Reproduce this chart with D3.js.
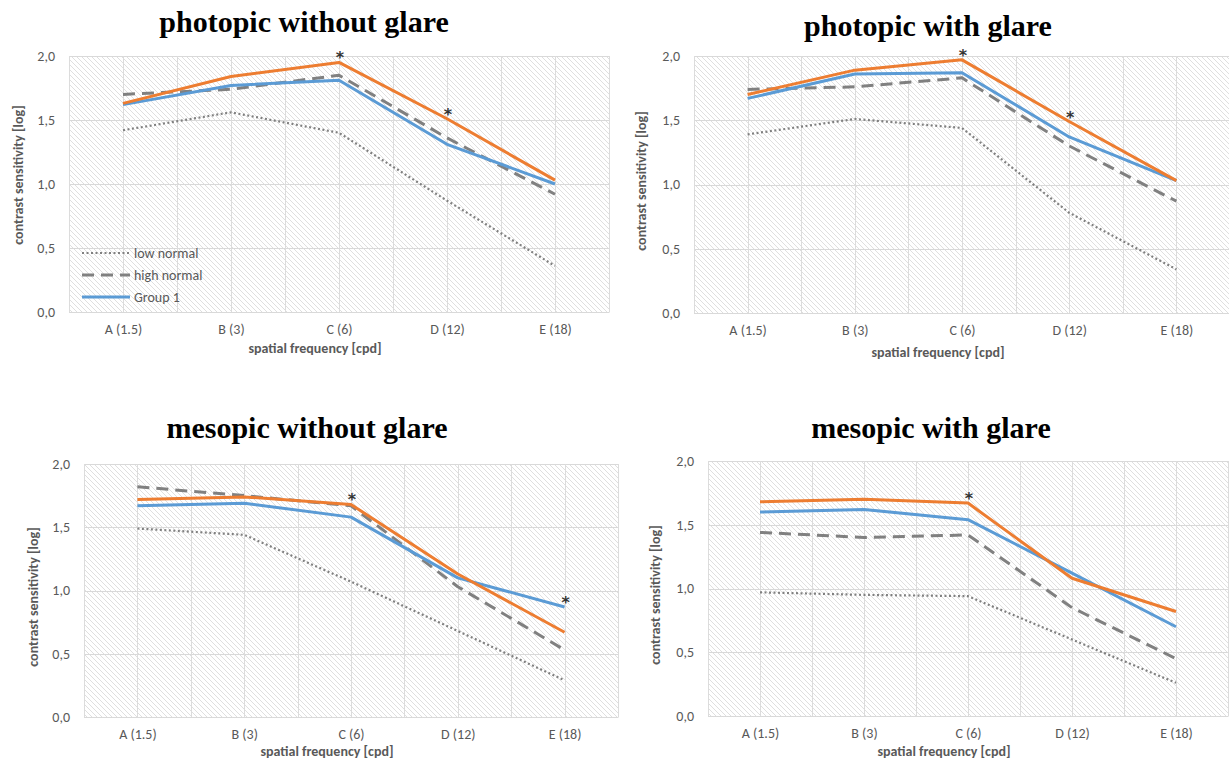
<!DOCTYPE html>
<html><head><meta charset="utf-8">
<script src="https://cdn.jsdelivr.net/npm/d3@7"></script>
<style>
body{margin:0;background:#fff;}
svg{display:block;}
</style></head>
<body>
<svg id="chart" width="1229" height="765"></svg>
<script>
const categories = ["A (1.5)", "B (3)", "C (6)", "D (12)", "E (18)"];
const yTicks = [0, 0.5, 1.0, 1.5, 2.0];
const seriesNames = ["low normal", "high normal", "Group 1", "Group 2"];
const titles = ["photopic without glare", "photopic with glare", "mesopic without glare", "mesopic with glare"];

// values per panel: [low normal, high normal, Group 1, Group 2(orange)]
const lowNormal = [
  [1.42, 1.56, 1.40, 0.87, 0.36],
  [1.39, 1.51, 1.44, 0.78, 0.34],
  [1.49, 1.44, 1.07, 0.68, 0.29],
  [0.97, 0.95, 0.94, 0.60, 0.26]
];
const highNormal = [
  [1.70, 1.74, 1.85, 1.36, 0.92],
  [1.74, 1.76, 1.83, 1.30, 0.87],
  [1.82, 1.75, 1.67, 1.03, 0.53],
  [1.44, 1.40, 1.42, 0.85, 0.45]
];
const group1 = [
  [1.62, 1.77, 1.81, 1.31, 1.00],
  [1.67, 1.86, 1.87, 1.37, 1.03],
  [1.67, 1.69, 1.58, 1.10, 0.87],
  [1.60, 1.62, 1.54, 1.12, 0.70]
];
const group2 = [
  [1.63, 1.84, 1.95, 1.51, 1.03],
  [1.70, 1.89, 1.97, 1.49, 1.03],
  [1.72, 1.74, 1.68, 1.13, 0.67],
  [1.68, 1.70, 1.67, 1.08, 0.82]
];
// significance markers (category indices) per panel, placed above the higher of the group lines
const asterisks = [[2, 3], [2, 3], [2, 4], [2]];

const xTitle = "spatial frequency [cpd]";
const yTitle = "contrast sensitivity [log]";

// layout
const panels = [
  {x0: 69,  x1: 609,  y0: 56,  y1: 312, titleX: 304, titleY: 32,  yTitleX: 18,  yTitleY: 175, xTitleY: 353, legend: true},
  {x0: 694, x1: 1230, y0: 56,  y1: 313, titleX: 928, titleY: 36,  yTitleX: 641, yTitleY: 181, xTitleY: 357, legend: false},
  {x0: 84,  x1: 618,  y0: 464, y1: 717, titleX: 307, titleY: 438, yTitleX: 33,  yTitleY: 597, xTitleY: 756, legend: false},
  {x0: 708, x1: 1228, y0: 461, y1: 716, titleX: 931, titleY: 438, yTitleX: 655, yTitleY: 595, xTitleY: 756, legend: false}
];

const styles = [
  {color: "#808080", width: 2.2, dash: "2,2.5"},
  {color: "#808080", width: 3, dash: "12,7"},
  {color: "#5B9BD5", width: 3, dash: null},
  {color: "#ED7D31", width: 3, dash: null}
];

const svg = d3.select("#chart");
const defs = svg.append("defs");
const pat = defs.append("pattern").attr("id", "hatch").attr("patternUnits", "userSpaceOnUse")
  .attr("width", 5).attr("height", 5);
pat.append("rect").attr("width", 5).attr("height", 5).attr("fill", "#ffffff");
pat.append("path").attr("d", "M-1,-1 L6,6 M-1,4 L1,6 M4,-1 L6,1")
  .attr("stroke", "#dfdfdf").attr("stroke-width", 1);

const labelFont = "Carlito, Lato, 'Open Sans', sans-serif";
const textGrey = "#595959";

panels.forEach((p, i) => {
  const g = svg.append("g");
  const x = d3.scalePoint().domain(categories).range([p.x0, p.x1]).padding(0.5);
  const xb = d3.scaleBand().domain(categories).range([p.x0, p.x1]);
  const y = d3.scaleLinear().domain([0, 2]).range([p.y1, p.y0]);

  g.append("rect").attr("x", p.x0).attr("y", p.y0).attr("width", p.x1 - p.x0).attr("height", p.y1 - p.y0)
    .attr("fill", "url(#hatch)");

  // horizontal gridlines
  g.append("g").selectAll("line").data(yTicks).join("line")
    .attr("x1", p.x0).attr("x2", p.x1).attr("y1", d => Math.round(y(d)) + 0.5).attr("y2", d => Math.round(y(d)) + 0.5)
    .attr("stroke", "#d9d9d9").attr("stroke-width", 1);
  // vertical gridlines at centers and boundaries
  const vpos = categories.map(c => x(c)).concat(categories.map(c => xb(c))).concat([p.x1]);
  g.append("g").selectAll("line").data(vpos).join("line")
    .attr("x1", d => Math.round(d) + 0.5).attr("x2", d => Math.round(d) + 0.5).attr("y1", p.y0).attr("y2", p.y1)
    .attr("stroke", "#dcdcdc").attr("stroke-width", 1);

  // y axis labels
  const yAxis = d3.axisLeft(y).tickValues(yTicks).tickSize(0).tickPadding(14)
    .tickFormat(d => d3.format(".1f")(d).replace(".", ","));
  const ya = g.append("g").attr("transform", `translate(${p.x0},0)`).call(yAxis);
  ya.select(".domain").remove();
  ya.selectAll("text").attr("font-family", labelFont).attr("font-size", 14).attr("fill", textGrey);

  // x axis labels
  const xAxis = d3.axisBottom(x).tickSize(0).tickPadding(12);
  const xa = g.append("g").attr("transform", `translate(0,${p.y1})`).call(xAxis);
  xa.select(".domain").attr("stroke", "#d9d9d9");
  xa.selectAll("text").attr("font-family", labelFont).attr("font-size", 14).attr("fill", textGrey);

  // titles
  g.append("text").attr("x", p.titleX).attr("y", p.titleY).attr("text-anchor", "middle")
    .attr("font-family", "'Liberation Serif', 'DejaVu Serif', serif").attr("font-weight", "bold")
    .attr("font-size", 30).attr("fill", "#000").text(titles[i]);
  g.append("text").attr("x", (p.x0 + p.x1) / 2 - 24).attr("y", p.xTitleY).attr("text-anchor", "middle")
    .attr("font-family", labelFont).attr("font-weight", "bold").attr("font-size", 14).attr("fill", textGrey)
    .text(xTitle);
  g.append("text").attr("transform", `translate(${p.yTitleX + 5},${p.yTitleY}) rotate(-90)`)
    .attr("text-anchor", "middle").attr("font-family", labelFont).attr("font-weight", "bold")
    .attr("font-size", 14).attr("fill", textGrey).text(yTitle);

  // lines
  const allSeries = [lowNormal[i], highNormal[i], group1[i], group2[i]];
  const line = d3.line().x((d, k) => x(categories[k])).y(d => y(d));
  allSeries.forEach((vals, s) => {
    const st = styles[s];
    g.append("path").datum(vals).attr("d", line).attr("fill", "none")
      .attr("stroke", st.color).attr("stroke-width", st.width)
      .attr("stroke-dasharray", st.dash).attr("stroke-linejoin", "round");
  });

  // asterisks
  g.append("g").selectAll("text").data(asterisks[i]).join("text")
    .attr("x", k => x(categories[k]) + 1)
    .attr("y", k => y(Math.max(group1[i][k], group2[i][k])) + 1)
    .attr("text-anchor", "middle").attr("font-family", "'DejaVu Sans', sans-serif").attr("font-weight", "bold")
    .attr("font-size", 16).attr("fill", "#333").text("*");

  // legend
  if (p.legend) {
    const legItems = [0, 1, 2];
    const lg = g.append("g");
    legItems.forEach((s, j) => {
      const ly = 253 + j * 22;
      const st = styles[s];
      lg.append("line").attr("x1", 82).attr("x2", 130).attr("y1", ly).attr("y2", ly)
        .attr("stroke", st.color).attr("stroke-width", st.width).attr("stroke-dasharray", st.dash);
      lg.append("text").attr("x", 134).attr("y", ly + 5).attr("font-family", labelFont)
        .attr("font-size", 14).attr("fill", textGrey).text(seriesNames[s]);
    });
  }
});
</script>
</body></html>
